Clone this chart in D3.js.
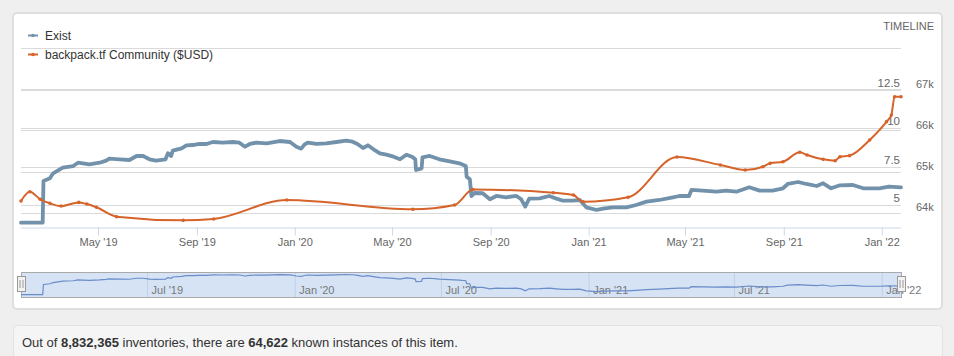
<!DOCTYPE html>
<html><head><meta charset="utf-8">
<script src="https://cdn.jsdelivr.net/npm/d3@7"></script>
<style>
html,body{margin:0;padding:0;background:#efefef;}
svg{display:block;font-family:"Liberation Sans",Arial,sans-serif;}
</style></head><body>
<svg id="c" width="954" height="356"></svg>
<script>
const seriesNames = ["Exist", "backpack.tf Community ($USD)"];
const existDates = ["2019-01-25","2019-02-21","2019-02-22","2019-03-02","2019-03-06","2019-03-18","2019-03-31","2019-04-06","2019-04-20","2019-05-03",
"2019-05-11","2019-05-15","2019-05-28","2019-06-09","2019-06-18","2019-06-26","2019-07-04","2019-07-12","2019-07-24","2019-07-27",
"2019-07-31","2019-08-02","2019-08-13","2019-08-19","2019-08-27","2019-09-04","2019-09-13","2019-09-21","2019-10-03","2019-10-16",
"2019-10-24","2019-10-31","2019-11-06","2019-11-14","2019-11-27","2019-12-13","2019-12-26","2020-01-03","2020-01-09","2020-01-13",
"2020-01-17","2020-01-28","2020-02-09","2020-02-22","2020-03-05","2020-03-13","2020-03-19","2020-03-26","2020-04-01","2020-04-08",
"2020-04-16","2020-04-24","2020-05-03","2020-05-11","2020-05-19","2020-05-26","2020-05-30","2020-05-31","2020-06-06","2020-06-07",
"2020-06-08","2020-06-17","2020-06-29","2020-07-12","2020-07-24","2020-08-01","2020-08-02","2020-08-06","2020-08-08","2020-08-12",
"2020-08-22","2020-08-31","2020-09-08","2020-09-20","2020-10-03","2020-10-09","2020-10-14","2020-10-19","2020-11-01","2020-11-13",
"2020-11-22","2020-11-30","2020-12-12","2020-12-21","2020-12-29","2021-01-11","2021-01-19","2021-01-31","2021-02-17","2021-03-01",
"2021-03-14","2021-03-30","2021-04-16","2021-04-24","2021-05-06","2021-05-09","2021-05-23","2021-06-09","2021-06-21","2021-07-04",
"2021-07-20","2021-08-02","2021-08-18","2021-08-31","2021-09-06","2021-09-19","2021-09-29","2021-10-12","2021-10-20","2021-10-30",
"2021-11-10","2021-11-26","2021-12-09","2021-12-29","2022-01-10","2022-01-25"];
const existValues = [63765,63765,64776,64841,64962,65098,65139,65219,65180,65219,
65268,65316,65302,65285,65382,65382,65302,65268,65302,65447,
65382,65510,65568,65641,65648,65673,65673,65721,65704,65721,
65704,65607,65673,65704,65690,65745,65721,65607,65559,65656,
65704,65673,65690,65721,65753,65728,65673,65576,65641,65544,
65447,65413,65365,65302,65413,65365,65302,65042,65074,65090,
65350,65382,65302,65253,65205,65139,64880,64817,64412,64485,
64478,64332,64412,64381,64412,64332,64153,64347,64356,64412,
64347,64298,64298,64315,64138,64073,64104,64138,64138,64194,
64274,64315,64381,64412,64412,64558,64541,64516,64541,64516,
64623,64541,64541,64599,64703,64751,64703,64654,64720,64599,
64671,64679,64599,64599,64638,64622];
const priceDates = ["2019-01-25","2019-02-05","2019-02-18","2019-03-02","2019-03-16","2019-04-07","2019-04-17","2019-04-29","2019-05-24","2019-08-15",
"2019-09-22","2019-12-22","2020-05-27","2020-07-18","2020-08-10","2020-11-18","2020-12-13","2020-12-25","2021-02-19","2021-04-21",
"2021-06-14","2021-07-15","2021-08-06","2021-08-15","2021-08-31","2021-09-21","2021-09-30","2021-10-20","2021-11-04","2021-11-10",
"2021-11-22","2021-12-17","2022-01-07","2022-01-13","2022-01-17","2022-01-25"];
const priceValues = [5.28,5.88,5.39,5.13,4.95,5.19,5.08,4.87,4.26,4.02,
4.11,5.34,4.74,5.02,6.03,5.82,5.67,5.23,5.52,8.14,
7.62,7.30,7.51,7.73,7.83,8.45,8.27,7.99,7.90,8.16,
8.23,9.25,10.44,10.87,12.06,12.06];
const existTicks = [64000, 65000, 66000, 67000, 68000];
const existTickLabels = ["64k", "65k", "66k", "67k", ""];
const priceTicks = [5, 7.5, 10, 12.5];
const priceTickLabels = ["5", "7.5", "10", "12.5"];
const rangeStart = "2019-01-25", rangeEnd = "2022-01-25";
const totalInventories = "8,832,365";
const knownInstances = "64,622";

const parse = d3.timeParse("%Y-%m-%d");
const exist = existDates.map((d, i) => ({date: parse(d), v: existValues[i]}));
const price = priceDates.map((d, i) => ({date: parse(d), v: priceValues[i]}));

const C_EXIST = "#7292ab", C_PRICE = "#d6642a", C_GRID = "#dadada", C_AXIS = "#ccd6eb", C_LABEL = "#666666";
const svg = d3.select("#c");

// cards
svg.append("rect").attr("x", 13).attr("y", 13).attr("width", 929).attr("height", 296).attr("rx", 4)
  .attr("fill", "#fff").attr("stroke", "#dedede").attr("stroke-width", 2);
svg.append("rect").attr("x", 13.5).attr("y", 325.5).attr("width", 929).attr("height", 40).attr("rx", 4)
  .attr("fill", "#f5f5f5").attr("stroke", "#e3e3e3");

const L = 21, R = 901, T = 48, B = 227.5;
const x = d3.scaleTime().domain([parse(rangeStart), parse(rangeEnd)]).range([L, R]);
const yE = d3.scaleLinear().domain([63648, 68000]).range([B, T]);
const yP = d3.scaleLinear().domain([3.556, 15.232]).range([B, T]);

// gridlines
const g = svg.append("g");
g.selectAll("line.ge").data(existTicks).join("line")
  .attr("x1", L).attr("x2", R).attr("y1", d => Math.round(yE(d)) + 0.5).attr("y2", d => Math.round(yE(d)) + 0.5)
  .attr("stroke", C_GRID);
g.selectAll("line.gp").data(priceTicks).join("line").attr("class", "gp")
  .attr("x1", L).attr("x2", R).attr("y1", d => Math.round(yP(d)) + 0.5).attr("y2", d => Math.round(yP(d)) + 0.5)
  .attr("stroke", C_GRID);

// right axis labels (Exist)
svg.append("g").selectAll("text").data(existTicks).join("text")
  .attr("x", 916).attr("y", d => yE(d) - 1.5).text((d, i) => existTickLabels[i])
  .attr("font-size", 11).attr("fill", C_LABEL);
// inner labels (price)
svg.append("g").selectAll("text").data(priceTicks).join("text")
  .attr("x", 900).attr("y", d => yP(d) - 3.2).attr("text-anchor", "end").text((d, i) => priceTickLabels[i])
  .attr("font-size", 11.5).attr("fill", C_LABEL);

// x axis
const xAxis = d3.axisBottom(x).ticks(d3.timeMonth.every(4)).tickFormat(d3.timeFormat("%b '%y")).tickSize(8).tickPadding(2.5);
const xa = svg.append("g").attr("transform", `translate(0,${B})`).call(xAxis);
xa.select(".domain").attr("stroke", C_AXIS).attr("d", `M${L},0.5H${R}`);
xa.selectAll(".tick line").attr("stroke", C_AXIS);
xa.selectAll(".tick text").attr("fill", C_LABEL).attr("font-size", 11).attr("font-family", "Liberation Sans, Arial, sans-serif");

// series
const lineE = d3.line().x(d => x(d.date)).y(d => yE(d.v));
svg.append("path").datum(exist).attr("d", lineE).attr("fill", "none")
  .attr("stroke", C_EXIST).attr("stroke-width", 3.8).attr("stroke-linejoin", "round").attr("stroke-linecap", "round");
const lineP = d3.line().x(d => x(d.date)).y(d => yP(d.v)).curve(d3.curveMonotoneX);
svg.append("path").datum(price).attr("d", lineP).attr("fill", "none")
  .attr("stroke", C_PRICE).attr("stroke-width", 2);
svg.append("g").selectAll("circle").data(price).join("circle")
  .attr("cx", d => x(d.date)).attr("cy", d => yP(d.v)).attr("r", 1.8).attr("fill", C_PRICE);

// legend
const leg = svg.append("g");
[C_EXIST, C_PRICE].forEach((c, i) => {
  const yy = 35.5 + i * 19;
  leg.append("line").attr("x1", 28).attr("x2", 38).attr("y1", yy).attr("y2", yy).attr("stroke", c).attr("stroke-width", 2);
  leg.append("circle").attr("cx", 33).attr("cy", yy).attr("r", 1.8).attr("fill", c);
  leg.append("text").attr("x", 45).attr("y", yy + 4.2).text(seriesNames[i]).attr("font-size", 12).attr("fill", "#333");
});

// title
svg.append("text").attr("x", 934).attr("y", 29.5).attr("text-anchor", "end").text("TIMELINE")
  .attr("font-size", 11).attr("fill", "#666");

// navigator
const NT = 272, NB = 297;
const nav = svg.append("g");
nav.append("rect").attr("x", L + 0.5).attr("y", NT + 0.5).attr("width", R - L).attr("height", NB - NT)
  .attr("fill", "#d5e3f5").attr("stroke", "#aaaaaa");
const navAxis = d3.axisBottom(x).ticks(d3.timeMonth.every(6)).tickFormat(d3.timeFormat("%b '%y")).tickSize(0);
const na = nav.append("g").attr("transform", `translate(0,${NT})`).call(navAxis);
na.select(".domain").remove();
na.selectAll(".tick line").attr("y1", 1).attr("y2", NB - NT).attr("stroke", "#c2d0e6");
na.selectAll(".tick text").attr("text-anchor", "start").attr("x", 4).attr("y", 21.5).attr("dy", null)
  .attr("fill", "#777").attr("font-size", 11).attr("font-family", "Liberation Sans, Arial, sans-serif");
const yN = d3.scaleLinear().domain(d3.extent(existValues)).range([294.7, 274.5]);
nav.append("path").datum(exist).attr("d", d3.line().x(d => x(d.date)).y(d => yN(d.v)))
  .attr("fill", "none").attr("stroke", "#6a8cc8").attr("stroke-width", 1.2);
[L, R].forEach(hx => {
  nav.append("rect").attr("x", hx - 3.5).attr("y", 276.5).attr("width", 8).attr("height", 15)
    .attr("fill", "#f2f2f2").attr("stroke", "#999");
  [-1, 1].forEach(o => nav.append("line").attr("x1", hx + 0.5 + o * 1.5).attr("x2", hx + 0.5 + o * 1.5)
    .attr("y1", 280).attr("y2", 288).attr("stroke", "#999"));
});

// footer text
const ft = svg.append("text").attr("x", 22).attr("y", 346.5).attr("font-size", 13).attr("fill", "#333");
ft.append("tspan").text("Out of ");
ft.append("tspan").attr("font-weight", "bold").text(totalInventories);
ft.append("tspan").text(" inventories, there are ");
ft.append("tspan").attr("font-weight", "bold").text(knownInstances);
ft.append("tspan").text(" known instances of this item.");
</script>
</body></html>
